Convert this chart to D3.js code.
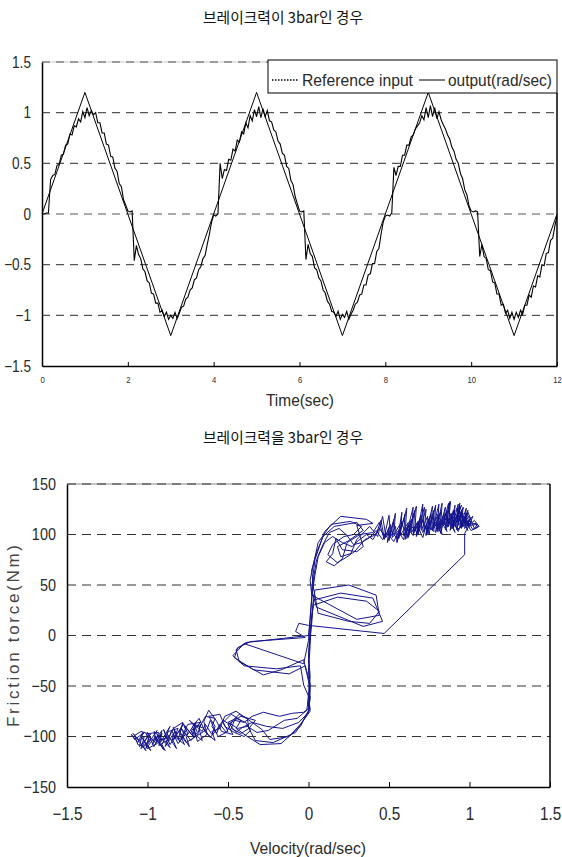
<!DOCTYPE html>
<html><head><meta charset="utf-8">
<script src="https://cdn.jsdelivr.net/npm/d3@7"></script>
<style>
body{margin:0;background:#fff;}
svg{display:block;}
</style></head><body>
<svg id="c" width="562" height="857"></svg>
<script>
// ---------- DATA ----------
const title1 = "브레이크력이 3bar인 경우";
const title2 = "브레이크력을 3bar인 경우";
const timeTicks = [0, 2, 4, 6, 8, 10, 12];
const outputTicks = [-1.5, -1, -0.5, 0, 0.5, 1, 1.5];
const legendLabels = ["Reference input", "output(rad/sec)"];
const refTime  = [0, 1, 2, 3, 4, 5, 6, 7, 8, 9, 10, 11, 12];
const refValue = [0, 1.2, 0, -1.2, 0, 1.2, 0, -1.2, 0, 1.2, 0, -1.2, 0];
const outDt = 0.05;
const outValue = [
 0.00,0.00,0.01,0.01,0.34,0.38,0.39,0.48,0.49,0.58,0.59,0.68,0.69,0.79,0.78,0.87,0.86,0.94,0.91,1.01,
 0.95,1.05,0.97,1.02,0.98,1.00,0.90,0.90,0.80,0.80,0.69,0.68,0.57,0.56,0.45,0.42,0.30,0.27,0.14,0.09,
 0.03,0.02,0.03,-0.46,-0.31,-0.40,-0.44,-0.54,-0.57,-0.66,-0.68,-0.78,-0.79,-0.88,-0.88,-0.97,-0.95,-1.01,-0.97,-1.04,
 -1.00,-1.03,-0.97,-1.03,-0.98,-0.92,-0.91,-0.84,-0.82,-0.75,-0.73,-0.65,-0.63,-0.55,-0.52,-0.44,-0.41,-0.30,-0.20,-0.08,
 -0.01,-0.02,0.00,0.50,0.35,0.44,0.43,0.54,0.53,0.64,0.62,0.73,0.71,0.81,0.79,0.90,0.85,0.97,0.92,1.03,
 0.96,1.06,0.95,1.04,0.96,1.02,0.92,0.91,0.83,0.81,0.72,0.69,0.60,0.58,0.47,0.45,0.33,0.29,0.17,0.10,
 0.03,0.02,0.03,-0.45,-0.30,-0.39,-0.42,-0.53,-0.55,-0.63,-0.66,-0.75,-0.78,-0.86,-0.89,-0.96,-0.97,-1.01,-0.96,-1.04,
 -0.99,-1.02,-0.96,-1.04,-0.99,-0.95,-0.89,-0.87,-0.80,-0.79,-0.70,-0.70,-0.60,-0.59,-0.49,-0.49,-0.37,-0.34,-0.20,-0.08,
 -0.02,-0.01,-0.02,0.01,0.46,0.38,0.47,0.47,0.58,0.58,0.68,0.68,0.76,0.78,0.84,0.87,0.90,0.97,0.93,1.05,
 0.95,1.07,0.96,1.05,0.94,1.01,0.93,0.88,0.84,0.78,0.74,0.66,0.62,0.54,0.50,0.40,0.35,0.24,0.19,0.08,
 0.03,0.02,0.03,0.02,-0.42,-0.30,-0.42,-0.44,-0.55,-0.56,-0.67,-0.68,-0.79,-0.79,-0.90,-0.89,-0.98,-0.95,-1.03,-0.97,
 -1.04,-0.97,-1.02,-0.95,-0.99,-0.90,-0.90,-0.80,-0.82,-0.71,-0.72,-0.61,-0.62,-0.50,-0.51,-0.39,-0.38,-0.26,-0.24,-0.12,
 -0.02
];

const velTicks = [-1.5, -1, -0.5, 0, 0.5, 1, 1.5];
const torqueTicks = [-150, -100, -50, 0, 50, 100, 150];
const phaseVelocity = [];
const phaseTorque = [];
const phasePairs = [
 // pass 1
 [0.00,-70],[0.01,-50],[0.00,-25],[0.01,0],[0.02,12],
 [0.03,35],[0.20,42],[0.40,37],[0.46,14],[0.34,9],[0.05,28],
 [0.02,45],[0.03,62],[0.04,75],
 [0.10,103],[0.20,118],[0.36,115],[0.40,111],[0.30,109],[0.34,88],[0.30,83],[0.21,85],[0.17,96],[0.15,81],[0.11,73],[0.16,69],[0.21,76],[0.24,92],[0.32,100],[0.40,102],
 [0.44,112],[0.47,95],[0.50,107],[0.49,92],[0.53,115],[0.52,97],[0.57,106],[0.55,93],[0.60,120],[0.59,99],[0.63,110],[0.61,96],[0.66,124],[0.65,100],[0.69,114],[0.67,98],[0.72,127],[0.71,102],[0.75,116],[0.73,99],[0.78,124],[0.77,104],[0.81,130],[0.80,103],[0.84,120],[0.82,101],[0.87,131],[0.86,107],[0.89,121],[0.88,104],[0.91,129],[0.90,109],[0.93,123],[0.92,105],[0.96,127],[0.95,110],[0.98,121],[0.97,106],[1.01,117],[0.99,110],[1.04,111],[1.05,107],[1.01,104],
 [0.96,115],[0.99,104],[0.93,125],[0.97,112],[0.91,109],[0.95,129],[0.89,106],[0.94,118],[0.88,116],[0.91,102],[0.85,121],[0.87,108],[0.81,113],[0.83,100],[0.77,117],[0.78,103],[0.73,109],[0.71,97],[0.67,111],[0.65,99],[0.61,107],[0.59,95],[0.56,103],[0.53,93],[0.49,101],[0.46,95],[0.42,104],[0.38,97],[0.33,92],[0.28,90],[0.24,99],[0.19,106],[0.13,102],[0.09,90],[0.05,75],[0.03,55],[0.02,35],[0.01,15],[0.00,0],
 [-0.39,-7],[-0.45,-14],[-0.43,-26],[-0.28,-39],[-0.17,-34],[-0.03,-24],[0.00,-45],[0.01,-62],[0.00,-74],
 [-0.05,-90],[-0.17,-107],[-0.30,-108],[-0.38,-100],[-0.45,-92],[-0.42,-84],[-0.48,-78],[-0.53,-86],[-0.50,-95],
 [-0.56,-100],[-0.60,-90],[-0.58,-82],[-0.64,-80],[-0.68,-92],[-0.66,-104],[-0.72,-96],[-0.70,-86],[-0.76,-100],[-0.74,-110],[-0.80,-95],[-0.78,-88],[-0.84,-104],[-0.82,-112],[-0.88,-97],[-0.86,-90],[-0.92,-106],[-0.90,-113],[-0.96,-99],[-0.94,-94],[-1.00,-108],[-0.98,-114],[-1.04,-100],[-1.02,-96],[-1.08,-103],[-1.10,-98],[-1.06,-106],
 [-1.03,-96],[-1.05,-110],[-0.99,-99],[-1.01,-112],[-0.95,-100],[-0.97,-108],[-0.91,-94],[-0.93,-106],[-0.87,-99],[-0.89,-110],[-0.83,-95],[-0.85,-104],[-0.79,-92],[-0.81,-103],[-0.75,-97],[-0.77,-90],[-0.71,-101],[-0.73,-94],[-0.67,-88],[-0.69,-99],[-0.63,-93],[-0.61,-84],[-0.57,-97],[-0.55,-88],[-0.51,-96],
 [-0.47,-84],[-0.43,-78],[-0.38,-82],[-0.37,-92],[-0.42,-97],[-0.48,-92],[-0.46,-84],[-0.40,-86],[-0.35,-80],[-0.28,-76],[-0.18,-80],[-0.10,-77],[-0.03,-76],[0.00,-72],
 // pass 2
 [0.01,-55],[0.00,-35],[0.01,-10],[0.02,20],
 [0.04,45],[0.25,50],[0.42,40],[0.44,20],[0.30,16],[0.02,40],
 [0.01,55],[0.03,70],
 [0.06,92],[0.14,110],[0.26,113],[0.33,108],[0.28,100],[0.22,98],[0.15,90],[0.12,80],[0.18,72],[0.26,80],[0.30,95],[0.38,108],
 [0.43,98],[0.46,118],[0.48,99],[0.51,110],[0.50,94],[0.54,121],[0.53,100],[0.58,113],[0.56,96],[0.61,126],[0.60,101],[0.64,115],[0.62,98],[0.67,128],[0.66,103],[0.70,119],[0.68,100],[0.73,125],[0.72,104],[0.76,120],[0.74,101],[0.79,129],[0.78,106],[0.82,122],[0.81,103],[0.85,127],[0.84,109],[0.88,132],[0.87,108],[0.90,124],[0.89,106],[0.93,130],[0.92,111],[0.95,122],[0.94,107],[0.98,126],[0.97,112],[1.00,119],[0.99,108],[1.03,114],[1.06,108],[1.02,105],
 [0.97,118],[1.00,107],[0.94,122],[0.98,110],[0.92,105],[0.96,126],[0.90,112],[0.93,103],[0.87,124],[0.89,110],[0.84,117],[0.86,103],[0.80,120],[0.81,106],[0.76,113],[0.75,100],[0.70,115],[0.68,101],[0.64,108],[0.62,97],[0.58,110],[0.55,96],[0.51,104],[0.48,97],[0.44,106],[0.40,95],[0.36,100],[0.31,94],[0.27,88],[0.21,92],[0.15,98],[0.10,92],[0.06,78],[0.04,60],[0.02,38],[0.01,18],[0.00,-5],
 [-0.03,-28],[-0.40,-8],[-0.47,-20],[-0.40,-30],[-0.20,-33],[-0.05,-30],[-0.03,-49],[0.00,-60],[0.01,-73],
 [-0.08,-96],[-0.22,-106],[-0.33,-104],[-0.37,-92],[-0.33,-84],[-0.42,-80],[-0.50,-88],[-0.47,-98],[-0.54,-95],[-0.57,-85],[-0.62,-74],[-0.65,-85],[-0.63,-98],[-0.69,-105],[-0.71,-92],[-0.67,-86],[-0.75,-88],[-0.79,-101],[-0.77,-108],[-0.83,-100],[-0.81,-92],[-0.87,-95],[-0.91,-108],[-0.89,-114],[-0.95,-103],[-0.93,-96],[-0.99,-97],[-1.03,-109],[-1.01,-114],[-1.07,-101],[-1.09,-97],[-1.05,-104],
 [-1.02,-100],[-1.04,-112],[-0.98,-102],[-1.00,-96],[-0.96,-110],[-0.92,-98],[-0.94,-104],[-0.88,-102],[-0.90,-93],[-0.86,-108],[-0.82,-98],[-0.84,-91],[-0.80,-105],[-0.76,-94],[-0.78,-87],[-0.72,-99],[-0.70,-91],[-0.74,-84],[-0.66,-95],[-0.64,-88],[-0.60,-98],[-0.58,-90],[-0.62,-80],[-0.55,-78],[-0.52,-90],
 [-0.46,-96],[-0.40,-100],[-0.36,-94],[-0.39,-86],[-0.45,-82],[-0.50,-86],[-0.44,-92],[-0.38,-90],[-0.32,-96],[-0.25,-94],[-0.15,-84],[-0.07,-82],[-0.01,-74],
 // pass 3
 [0.00,-58],[0.01,-40],[0.00,-18],[0.01,5],
 [0.03,30],[0.18,38],[0.36,34],[0.44,24],[0.38,12],[0.25,14],[0.06,22],[0.03,48],[0.02,65],
 [0.05,82],[0.09,98],[0.16,108],[0.30,112],[0.34,104],[0.25,94],[0.18,88],[0.20,78],[0.28,82],[0.35,95],[0.42,100],
 [0.45,114],[0.47,97],[0.50,119],[0.51,98],[0.54,108],[0.55,92],[0.58,122],[0.57,99],[0.62,112],[0.60,95],[0.65,127],[0.64,102],[0.68,113],[0.67,99],[0.71,130],[0.70,104],[0.74,118],[0.73,100],[0.77,128],[0.76,105],[0.80,118],[0.79,102],[0.83,131],[0.82,108],[0.86,123],[0.85,105],[0.88,133],[0.87,110],[0.91,124],[0.90,106],[0.94,131],[0.93,112],[0.96,121],[0.95,106],[0.99,124],[0.98,111],[1.02,118],[1.00,109],[1.05,110],[1.03,106],
 [0.99,122],[0.96,108],[0.92,126],[0.97,114],[0.93,104],[0.98,118],[0.94,111],[1.01,113],[0.97,101],
 [0.97,80],[0.47,2],[0.00,10],[-0.06,12],[-0.08,4],[-0.02,-2],
 [-0.36,-6],[-0.44,-12],[-0.46,-22],[-0.34,-34],[-0.12,-38],[-0.02,-30],[0.01,-48],[0.00,-66],[0.01,-75],
 [-0.04,-86],[-0.12,-100],[-0.24,-103],[-0.29,-93],[-0.36,-85],[-0.45,-75],[-0.52,-80],[-0.55,-92],[-0.60,-95],[-0.58,-104],[-0.64,-96],[-0.68,-82],[-0.72,-90],[-0.70,-100],[-0.76,-106],[-0.80,-97],[-0.78,-86],[-0.84,-92],[-0.88,-105],[-0.86,-111],[-0.92,-101],[-0.96,-95],[-0.94,-107],[-1.00,-112],[-1.02,-104],[-0.98,-98],[-1.04,-95],[-1.08,-99],[-1.06,-108],[-1.02,-110],
 [-0.99,-104],[-1.01,-97],[-0.95,-106],[-0.91,-97],[-0.93,-109],[-0.87,-103],[-0.85,-94],[-0.81,-107],[-0.77,-99],[-0.79,-92],[-0.73,-104],[-0.69,-96],[-0.71,-88],[-0.65,-92],[-0.61,-101],[-0.57,-93],[-0.53,-84],[-0.49,-88],[-0.45,-96],[-0.41,-91],[-0.35,-86],[-0.26,-90],[-0.16,-92],[-0.06,-86],[0.00,-76],[0.01,-60]
];
phasePairs.forEach(p => { phaseVelocity.push(p[0]); phaseTorque.push(p[1]); });
const xLabel1 = "Time(sec)";
const xLabel2 = "Velocity(rad/sec)";
const yLabel2 = "Friction torce(Nm)";

// ---------- DRAWING ----------
const SANS = "'Liberation Sans',Arial,sans-serif";
const KR = "'Noto Sans CJK KR','Noto Sans',sans-serif";
const TXT = '#2a2a2a';
const svg = d3.select('#c');
svg.append('rect').attr('width',562).attr('height',857).attr('fill','#fff');

function title(txt, y){
  svg.append('text').attr('x',283).attr('y',y).attr('text-anchor','middle')
    .attr('font-family',KR).attr('font-size',15).attr('fill','#111')
    .attr('textLength',160).attr('lengthAdjust','spacingAndGlyphs').text(txt);
}
title(title1, 23);
title(title2, 443);

function styleTicks(g, size, sx){
  g.selectAll('.tick text').attr('font-family',SANS).attr('font-size',size).attr('fill',TXT)
    .attr('transform',`scale(${sx},1)`);
}

// ===== Top chart =====
const xT = d3.scaleLinear().domain([0,12]).range([42,557]);
const yT = d3.scaleLinear().domain([-1.5,1.5]).range([366,62]);

svg.append('line').attr('x1',xT(0)).attr('x2',xT(12)).attr('y1',yT(1.5)).attr('y2',yT(1.5))
  .attr('stroke','#c8c8c8').attr('stroke-width',1);
svg.append('g').selectAll('line').data(outputTicks.filter(d=>d>-1.5)).join('line')
  .attr('x1',xT(0)).attr('x2',xT(12)).attr('y1',d=>yT(d)).attr('y2',d=>yT(d))
  .attr('stroke','#555').attr('stroke-width',1.2).attr('stroke-dasharray','8,6');

const gxT = svg.append('g').attr('transform',`translate(0,${yT(-1.5)})`)
  .call(d3.axisBottom(xT).tickValues(timeTicks).tickSize(-4).tickSizeOuter(0).tickPadding(11));
gxT.select('.domain').attr('stroke','#000').attr('stroke-width',1.5);
gxT.selectAll('.tick line').attr('stroke','#000');
styleTicks(gxT, 9, 0.85);

const gyT = svg.append('g').attr('transform',`translate(${xT(0)},0)`)
  .call(d3.axisLeft(yT).tickValues(outputTicks).tickSize(0).tickPadding(13).tickFormat(d3.format('')));
gyT.select('.domain').attr('stroke','#000').attr('stroke-width',1.5);
styleTicks(gyT, 16, 0.85);

svg.append('line').attr('x1',xT(12)).attr('x2',xT(12)).attr('y1',93).attr('y2',yT(-1.5))
  .attr('stroke','#000').attr('stroke-width',1.5);

const refLine = d3.line().x((d,i)=>xT(refTime[i])).y(d=>yT(d));
svg.append('path').attr('d',refLine(refValue)).attr('fill','none').attr('stroke','#000').attr('stroke-width',1);
const outLine = d3.line().x((d,i)=>xT(i*outDt)).y(d=>yT(d));
svg.append('path').attr('d',outLine(outValue)).attr('fill','none').attr('stroke','#000').attr('stroke-width',1.1);

const lg = svg.append('g');
lg.append('rect').attr('x',268).attr('y',60).attr('width',289).attr('height',33)
  .attr('fill','#fff').attr('stroke','#000').attr('stroke-width',1);
lg.append('line').attr('x1',272).attr('x2',299).attr('y1',80).attr('y2',80)
  .attr('stroke','#000').attr('stroke-width',1.5).attr('stroke-dasharray','1.5,1.5');
lg.append('text').attr('x',302).attr('y',86).attr('font-family',SANS).attr('font-size',17).attr('fill',TXT)
  .attr('textLength',111).attr('lengthAdjust','spacingAndGlyphs').text(legendLabels[0]);
lg.append('line').attr('x1',419).attr('x2',445).attr('y1',80).attr('y2',80)
  .attr('stroke','#000').attr('stroke-width',1);
lg.append('text').attr('x',448).attr('y',86).attr('font-family',SANS).attr('font-size',17).attr('fill',TXT)
  .attr('textLength',104).attr('lengthAdjust','spacingAndGlyphs').text(legendLabels[1]);

svg.append('text').attr('x',300).attr('y',406).attr('text-anchor','middle').attr('fill',TXT)
  .attr('font-family',SANS).attr('font-size',17).attr('textLength',68).attr('lengthAdjust','spacingAndGlyphs')
  .text(xLabel1);

// ===== Bottom chart =====
const xB = d3.scaleLinear().domain([-1.5,1.5]).range([67,550]);
const yB = d3.scaleLinear().domain([-150,150]).range([787,484]);

svg.append('line').attr('x1',xB(-1.5)).attr('x2',xB(1.5)).attr('y1',yB(150)).attr('y2',yB(150))
  .attr('stroke','#b0b0b0').attr('stroke-width',1.5);
svg.append('g').selectAll('line').data(torqueTicks.filter(d=>d>-150)).join('line')
  .attr('x1',xB(-1.5)).attr('x2',xB(1.5)).attr('y1',d=>yB(d)).attr('y2',d=>yB(d))
  .attr('stroke','#333').attr('stroke-width',1.2).attr('stroke-dasharray','9,6');

const gxB = svg.append('g').attr('transform',`translate(0,${yB(-150)})`)
  .call(d3.axisBottom(xB).tickValues(velTicks).tickSize(-5).tickSizeOuter(0).tickPadding(20).tickFormat(d3.format('')));
gxB.select('.domain').attr('stroke','#000').attr('stroke-width',1.5);
gxB.selectAll('.tick line').attr('stroke','#000');
styleTicks(gxB, 18, 0.85);

const gyB = svg.append('g').attr('transform',`translate(${xB(-1.5)},0)`)
  .call(d3.axisLeft(yB).tickValues(torqueTicks).tickSize(0).tickPadding(13));
gyB.select('.domain').attr('stroke','#000').attr('stroke-width',1.5);
styleTicks(gyB, 17, 0.85);

svg.append('line').attr('x1',xB(1.5)).attr('x2',xB(1.5)).attr('y1',yB(150)).attr('y2',yB(-150))
  .attr('stroke','#000').attr('stroke-width',1.5);

const phaseLine = d3.line().x((d,i)=>xB(phaseVelocity[i])).y(d=>yB(d));
svg.append('path').attr('d',phaseLine(phaseTorque)).attr('fill','none')
  .attr('stroke','#14148c').attr('stroke-width',1).attr('stroke-linejoin','round');

svg.append('text').attr('x',308).attr('y',854).attr('text-anchor','middle').attr('fill',TXT)
  .attr('font-family',SANS).attr('font-size',17).attr('textLength',116).attr('lengthAdjust','spacingAndGlyphs')
  .text(xLabel2);
svg.append('text').attr('transform','translate(19,636) rotate(-90)').attr('text-anchor','middle')
  .attr('font-family',SANS).attr('font-size',17).attr('fill','#444')
  .attr('textLength',182).attr('lengthAdjust','spacing').text(yLabel2);
</script>
</body></html>
